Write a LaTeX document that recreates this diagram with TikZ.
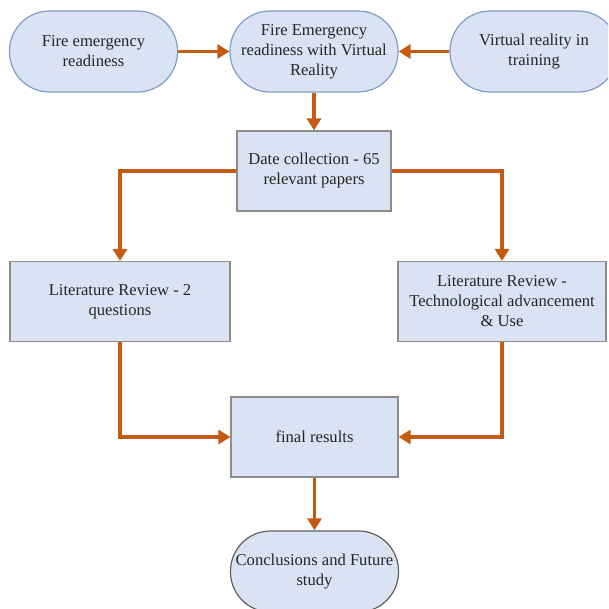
\documentclass[tikz,border=0pt]{standalone}
\usepackage{fontspec}
\setmainfont{Liberation Serif}
\usetikzlibrary{arrows.meta}
\definecolor{boxfill}{HTML}{DAE3F3}
\definecolor{pillline}{HTML}{7F9CC9}
\definecolor{boxline}{HTML}{8C8C8C}
\definecolor{darkline}{HTML}{5F5F5F}
\definecolor{arrowc}{HTML}{C55A11}
\tikzset{
  base/.style={fill=boxfill, line width=1.2pt, align=center, inner sep=1pt,
    font=\fontsize{16.6}{20}\selectfont, text=black!85},
  pill/.style={base, draw=pillline, rounded corners=40pt, minimum width=168pt, minimum height=81pt},
  pillg/.style={base, draw=darkline, rounded corners=40pt, minimum width=168pt, minimum height=81pt},
  sbox/.style={base, draw=boxline, minimum height=80pt},
  conn/.style={draw=arrowc, line width=3.2pt},
  arr/.style={conn, -{Triangle[length=12pt,width=14pt]}}
}
\begin{document}
\begin{tikzpicture}[x=1pt,y=-1pt]
\useasboundingbox (0,0) rectangle (608,609);
\clip (0,0) rectangle (608,609);
\node[pill] (a) at (93.5,51.5) {Fire emergency\\readiness};
\node[pill] (b) at (314,51.5) {Fire Emergency\\readiness with Virtual\\Reality};
\node[pill] (c) at (534,51.5) {Virtual reality in\\training};
\node[sbox, minimum width=154pt] (d) at (314,171) {Date collection - 65\\relevant papers};
\node[sbox, minimum width=220pt] (e) at (120,301.5) {Literature Review - 2\\questions};
\node[sbox, minimum width=208pt] (f) at (502,301.5) {Literature Review -\\Technological advancement\\\& Use};
\node[sbox, minimum width=167pt] (g) at (314.5,437) {final results};
\node[pillg] (h) at (314.5,571.5) {Conclusions and Future\\study};
\draw[arr] (a.east) -- (b.west);
\draw[arr] (c.west) -- (b.east);
\draw[arr] (b.south) -- (d.north);
\draw[arr] (d.west) -| (e.north);
\draw[arr] (d.east) -| (f.north);
\draw[arr] (e.south) |- (g.west);
\draw[arr] (f.south) |- (g.east);
\draw[arr] (g.south) -- (h.north);
\end{tikzpicture}
\end{document}
